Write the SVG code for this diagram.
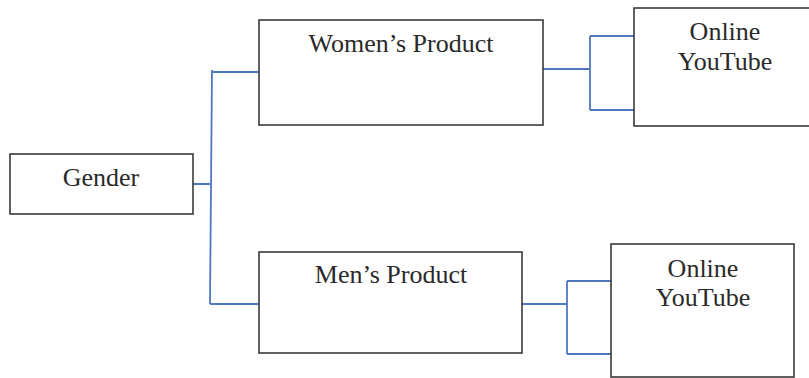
<svg xmlns="http://www.w3.org/2000/svg" width="809" height="378" viewBox="0 0 809 378">
<style>
.box{fill:#fff;stroke:#3a3a3a;stroke-width:1.6}
.lbl{font-family:"Liberation Serif","Times New Roman",serif;font-size:26px;fill:#2a2a2a;text-anchor:middle}
.con{fill:none;stroke:#4f78c0;stroke-width:1.8}
</style>
<rect width="809" height="378" fill="#fff"/>
<g id="connectors">
<path class="con" d="M193,184 H210 M212,70 L210,304 M212,72 H259 M210,304 H259"/>
<path class="con" d="M543,69 H590 M590,36 V110 M590,36 H634 M590,110 H634"/>
<path class="con" d="M522,304 H567 M567,281 V354 M567,281 H611 M567,354 H611"/>
</g>
<g id="gender">
<rect class="box" x="10" y="154" width="183" height="60"/>
<text class="lbl" x="101" y="186">Gender</text>
</g>
<g id="womens">
<rect class="box" x="259" y="20" width="284" height="105"/>
<text class="lbl" x="401" y="52">Women’s Product</text>
</g>
<g id="mens">
<rect class="box" x="259" y="252" width="263" height="101"/>
<text class="lbl" x="391" y="283">Men’s Product</text>
</g>
<g id="online1">
<rect class="box" x="634" y="8" width="180" height="118"/>
<text class="lbl" x="725" y="40">Online</text>
<text class="lbl" x="725" y="70">YouTube</text>
</g>
<g id="online2">
<rect class="box" x="611" y="244" width="183" height="133"/>
<text class="lbl" x="703" y="277">Online</text>
<text class="lbl" x="703" y="306">YouTube</text>
</g>
</svg>
